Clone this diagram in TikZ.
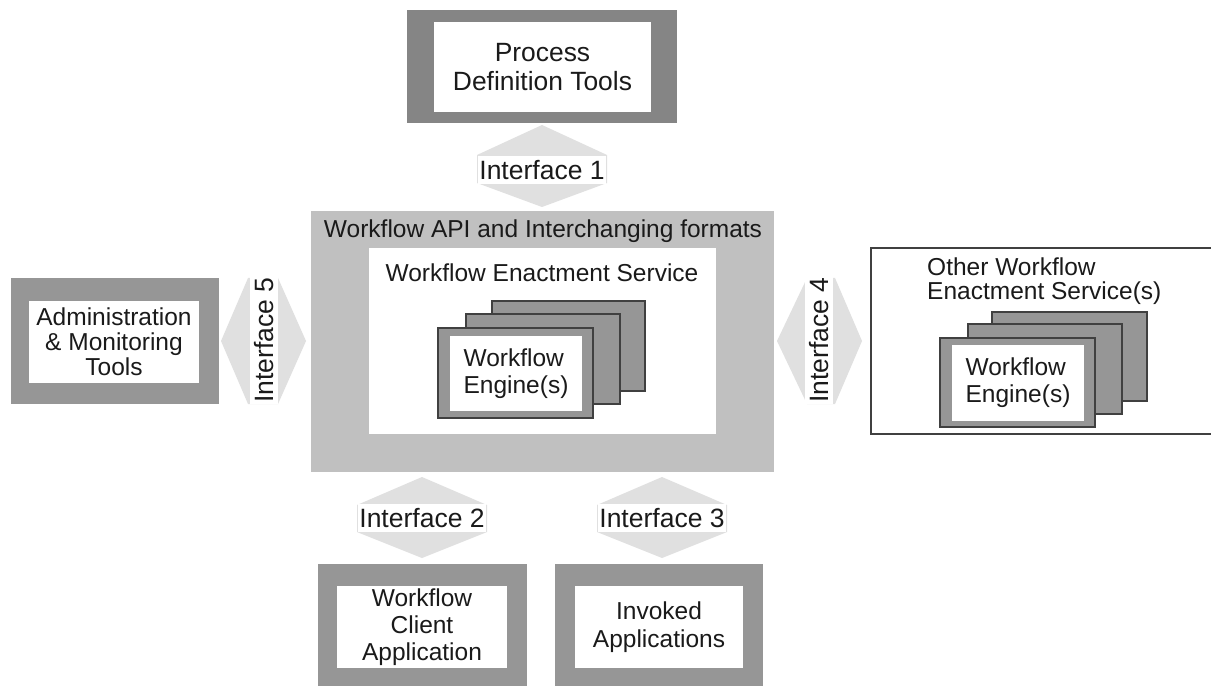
\documentclass[tikz,border=0pt]{standalone}
\usepackage{fontspec}
\setmainfont{Liberation Sans}
\definecolor{frameA}{HTML}{858585}
\definecolor{frameB}{HTML}{969696}
\definecolor{apibg}{HTML}{C0C0C0}
\definecolor{arrowfill}{HTML}{E0E0E0}
\definecolor{engfill}{HTML}{969696}
\definecolor{engline}{HTML}{404040}
\definecolor{ink}{HTML}{1A1A1A}
\newcommand\mainsize{\fontsize{24.5}{27}\selectfont}
\newcommand\bigsize{\fontsize{26.4}{28.5}\selectfont}
\newcommand\ifsize{\fontsize{26.5}{28}\selectfont}
\begin{document}
\begin{tikzpicture}[x=1pt,y=-1pt,
  box/.style={inner sep=0pt, outer sep=0pt},
  tool/.style={box, fill=frameB},
  panel/.style={box, fill=white, align=center, text=ink, font=\mainsize},
  engine/.style={box, fill=engfill, draw=engline, line width=1.2pt},
  caption/.style={text=ink, font=\mainsize, inner sep=0pt},
  iface/.style={fill=white, text=ink, font=\ifsize, inner xsep=1.5pt, inner ysep=4pt},
  hexa/.style={fill=arrowfill}]
\useasboundingbox (0,0) rectangle (1211,687);
\fill[white] (0,0) rectangle (1211,687);

% --- Process definition tools (top)
\node[tool, fill=frameA, minimum width=270, minimum height=113] (pdt) at (542,66.5) {};
\node[panel, font=\bigsize, minimum width=217, minimum height=90] (pdtText) at (542.5,67) {Process\\Definition Tools};

% --- Workflow API frame with the enactment service
\node[box, fill=apibg, minimum width=463, minimum height=261] (api) at (542.5,341.5) {};
\node[caption] (apiTitle) at (543,231) {Workflow API and Interchanging formats};
\node[box, fill=white, minimum width=347, minimum height=186] (wes) at (542.5,341) {};
\node[caption] (wesTitle) at (542,273) {Workflow Enactment Service};

% engine stack inside the enactment service
\node[engine, minimum width=153, minimum height=90] (eA3) at (568.5,346) {};
\node[engine, minimum width=154, minimum height=90] (eA2) at (543,359) {};
\node[engine, minimum width=155, minimum height=90] (eA1) at (515.5,373) {};
\node[panel, align=left, minimum width=132, minimum height=75] (eAText) at (516,373.5) {Workflow\\Engine(s)};

% --- Administration & monitoring tools (left)
\node[tool, minimum width=208, minimum height=126] (adm) at (115,341) {};
\node[panel, font=\fontsize{24.5}{25}\selectfont, minimum width=170, minimum height=82] (admText) at (114,342) {Administration\\\& Monitoring\\Tools};

% --- Other enactment services (right)
\node[box, draw=engline, line width=1.2pt, minimum width=346, minimum height=186] (other) at (1044,341) {};
\node[caption, anchor=west, align=left, font=\fontsize{24.5}{24.5}\selectfont] (otherTitle) at (927,281) {Other Workflow\\Enactment Service(s)};
\node[engine, minimum width=155, minimum height=89] (eB3) at (1069.5,356.5) {};
\node[engine, minimum width=154, minimum height=90] (eB2) at (1045,369) {};
\node[engine, minimum width=155, minimum height=89] (eB1) at (1017.5,382.5) {};
\node[panel, align=left, minimum width=132, minimum height=76] (eBText) at (1018,383) {Workflow\\Engine(s)};

% --- Client and invoked applications (bottom)
\node[tool, minimum width=209, minimum height=122] (cli) at (422.5,625) {};
\node[panel, minimum width=170, minimum height=82] (cliText) at (422,627) {Workflow\\Client\\Application};
\node[tool, minimum width=208, minimum height=122] (inv) at (659,625) {};
\node[panel, font=\fontsize{24.5}{28}\selectfont, minimum width=168, minimum height=82] (invText) at (659,627) {Invoked\\Applications};

% --- Interface double arrows
\fill[hexa] (542,125) -- (607,155) -- (607,183) -- (542,207) -- (477,183) -- (477,155) -- cycle;
\node[iface] (if1) at (542,170) {Interface 1};

\fill[hexa] (422,477) -- (487,505) -- (487,532) -- (422,558) -- (357,532) -- (357,505) -- cycle;
\node[iface] (if2) at (422,518) {Interface 2};

\fill[hexa] (662,477) -- (727,505) -- (727,532) -- (662,558) -- (597,532) -- (597,505) -- cycle;
\node[iface] (if3) at (662,518) {Interface 3};

\fill[hexa] (777,341) -- (807,278) -- (835,278) -- (862,341) -- (835,404) -- (807,404) -- cycle;
\node[iface, rotate=90] (if4) at (819,340) {Interface 4};

\fill[hexa] (221,341) -- (248,278) -- (278,278) -- (306,341) -- (278,404) -- (248,404) -- cycle;
\node[iface, rotate=90] (if5) at (264,340) {Interface 5};
\end{tikzpicture}
\end{document}
